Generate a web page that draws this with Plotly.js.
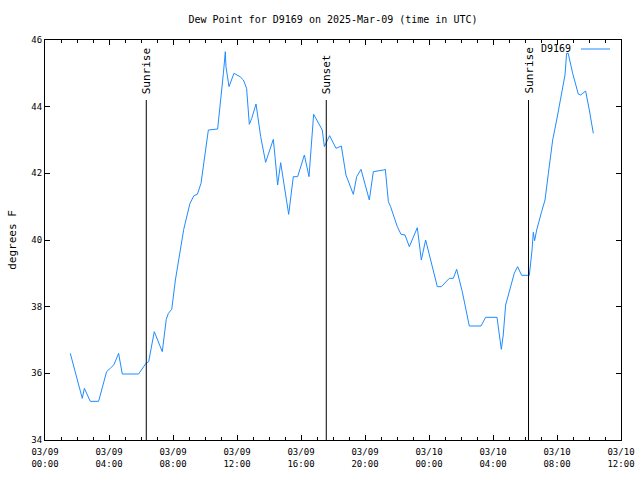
<!DOCTYPE html>
<html>
<head>
<meta charset="utf-8">
<script src="https://cdn.plot.ly/plotly-3.0.1.min.js"></script>
<style>html,body{margin:0;padding:0;background:#fff;}#chart{width:640px;height:480px;}</style>
</head>
<body>
<div id="chart"></div>
<script>
// Hours since 2025-03-09 00:00 UTC
var hours = [1.58,2.33,2.46,2.83,3.35,3.85,4.1,4.31,4.6,4.83,5.85,6.31,6.48,6.83,7.33,7.58,7.71,7.92,8.15,8.67,
  9.06,9.31,9.52,9.75,10.21,10.79,11.15,11.27,11.31,11.5,11.81,12.19,12.4,12.6,12.77,12.92,13.19,13.48,13.79,14.27,
  14.375,14.54,14.73,14.9,15.23,15.52,15.79,16.21,16.5,16.79,17.19,17.33,17.46,17.79,18.19,18.52,18.81,19.27,19.48,19.75,
  20.27,20.52,21.15,21.27,21.46,21.6,22.02,22.25,22.5,22.77,23.27,23.52,23.79,24.17,24.52,24.77,25.27,25.52,25.73,26.08,
  26.52,27.25,27.54,28.25,28.375,28.52,28.64,28.79,29.33,29.54,29.79,30.27,30.44,30.52,30.6,30.73,31.04,31.25,31.46,31.73,
  31.98,32.23,32.5,32.6,32.7,32.98,33.33,33.48,33.79,34.02,34.27];
var dewPoint = [36.6,35.25,35.55,35.16,35.16,36.05,36.16,36.26,36.6,35.98,35.98,36.3,36.35,37.25,36.65,37.62,37.8,37.92,38.8,40.32,
  41.1,41.33,41.37,41.7,43.3,43.33,45.0,45.65,45.2,44.6,45.0,44.9,44.8,44.55,43.47,43.65,44.08,43.1,42.33,43.02,
  42.5,41.65,42.32,41.8,40.77,41.9,41.9,42.55,41.9,43.77,43.45,43.3,42.8,43.13,42.75,42.82,41.95,41.37,41.9,42.12,
  41.2,42.05,42.1,42.12,41.15,41.0,40.4,40.17,40.15,39.8,40.37,39.4,40.0,39.3,38.6,38.6,38.85,38.85,39.12,38.45,
  37.42,37.42,37.68,37.68,37.3,36.72,37.15,38.05,39.0,39.2,38.94,38.94,39.7,40.23,39.98,40.3,40.85,41.2,42.0,43.0,
  43.6,44.25,44.95,45.6,45.6,45.0,44.38,44.35,44.47,43.9,43.2];
var eventNames = ["Sunrise","Sunset","Sunrise"];
var eventHours = [6.33, 17.58, 30.22];
var eventTop = 44.2;
var seriesName = "D9169";
var xStart = "2025-03-09 00:00", xEnd = "2025-03-10 12:00";

var base = Date.UTC(2025,2,9,0,0,0);
function toDate(h){
  var d = new Date(base + Math.round(h*3600000));
  return d.toISOString().replace("T"," ").slice(0,19);
}
var times = hours.map(toDate);
var evTimes = eventHours.map(toDate);

var FONT = "DejaVu Sans Mono";
var TICKFS = 9;
var trace = {x: times, y: dewPoint, type: "scatter", mode: "lines", name: seriesName,
  line: {color: "#1e8cff", width: 1}};

var shapes = evTimes.map(function(t){
  return {type:"line", xref:"x", yref:"y", x0:t, x1:t, y0:34, y1:eventTop, line:{color:"black", width:1}};
});
shapes.push({type:"line", xref:"paper", yref:"paper", x0:0.9306, x1:0.9809, y0:0.9775, y1:0.9775,
  line:{color:"#1e8cff", width:1}});

var annotations = evTimes.map(function(t,i){
  return {x:t, y:eventTop, xref:"x", yref:"y", text:eventNames[i], textangle:-90, showarrow:false,
    xanchor:"center", yanchor:"bottom", yshift:4, font:{family:FONT, size:11, color:"black"}};
});
annotations.push({x:0.9167, y:0.9775, xref:"paper", yref:"paper", text:seriesName, showarrow:false,
  xanchor:"right", yanchor:"middle", font:{family:FONT, size:10, color:"black"}});

var layout = {
  width: 640, height: 480,
  margin: {l:45, r:19, t:40, b:40},
  paper_bgcolor: "white", plot_bgcolor: "white",
  showlegend: false,
  font: {family: FONT, size: 10, color: "black"},
  title: {text: "Dew Point for D9169 on 2025-Mar-09 (time in UTC)", x: 0.5, xref: "paper",
    y: 0.9604, yref: "container", yanchor: "middle",
    font: {family: FONT, size: 10, color: "black"}},
  xaxis: {type: "date", range: [xStart, xEnd], tick0: xStart, dtick: 14400000,
    tickformat: "%m/%d<br>%H:%M", ticks: "inside", ticklen: 5, tickcolor: "black",
    ticklabelstandoff: 3,
    showline: true, linecolor: "black", linewidth: 1, mirror: "ticks", showgrid: false, zeroline: false,
    minor: {dtick: 3600000, ticks: "inside", ticklen: 3, tickcolor: "black", showgrid: false},
    tickfont: {family: FONT, size: TICKFS}},
  yaxis: {range: [34, 46], dtick: 2, tick0: 34, ticks: "inside", ticklen: 5, tickcolor: "black",
    showline: true, linecolor: "black", linewidth: 1, mirror: "ticks", showgrid: false, zeroline: false,
    title: {text: "degrees F", standoff: 12, font: {family: FONT, size: 11}},
    tickfont: {family: FONT, size: TICKFS}},
  shapes: shapes,
  annotations: annotations
};
Plotly.newPlot("chart", [trace], layout, {displayModeBar: false, staticPlot: true});
</script>
</body>
</html>
